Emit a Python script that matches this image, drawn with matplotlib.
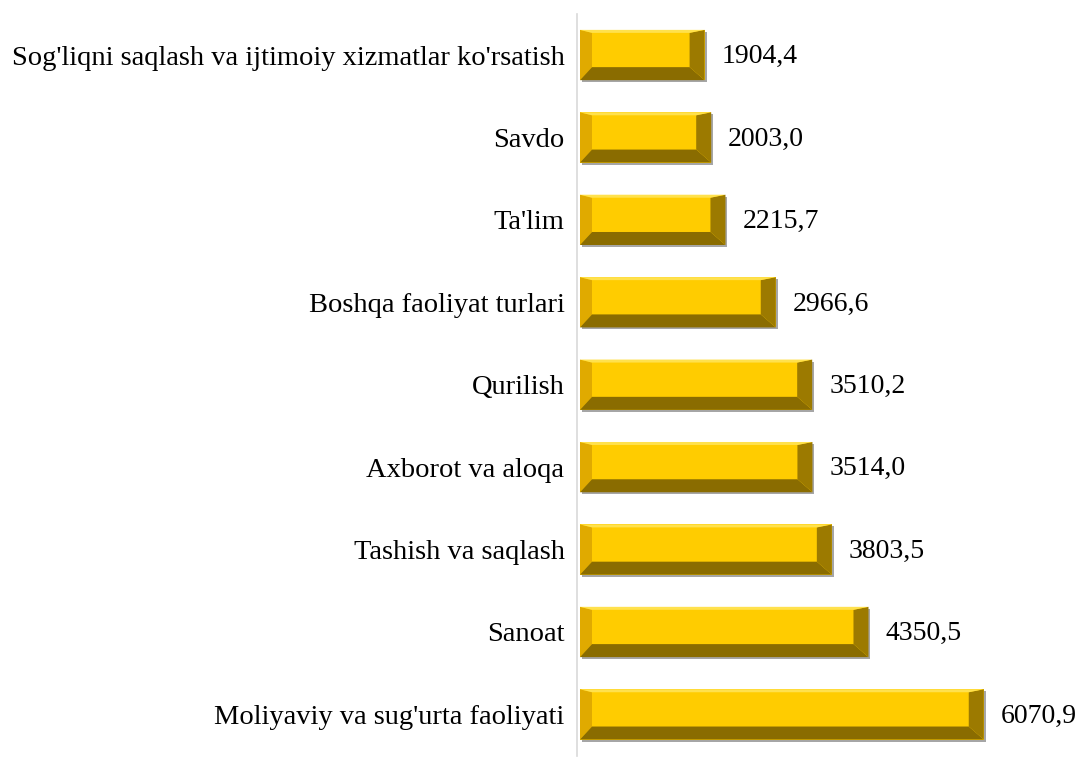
import matplotlib.pyplot as plt
from matplotlib.patches import Polygon

categories = ["Moliyaviy va sug'urta faoliyati", "Sanoat", "Tashish va saqlash",
              "Axborot va aloqa", "Qurilish", "Boshqa faoliyat turlari",
              "Ta'lim", "Savdo", "Sog'liqni saqlash va ijtimoiy xizmatlar ko'rsatish"]
values = [6070.9, 4350.5, 3803.5, 3514.0, 3510.2, 2966.6, 2215.7, 2003.0, 1904.4]
labels = ["6070,9", "4350,5", "3803,5", "3514,0", "3510,2", "2966,6", "2215,7", "2003,0", "1904,4"]

plt.rcParams['font.family'] = ['Liberation Serif', 'DejaVu Serif']

W, H, DPI = 1082, 760, 100
fig = plt.figure(figsize=(W / DPI, H / DPI), dpi=DPI)
ax_left, ax_right, ax_top, ax_bot = 577, 1046, 13.8, 755.6
ax = fig.add_axes([ax_left / W, 1 - ax_bot / H, (ax_right - ax_left) / W, (ax_bot - ax_top) / H])

xmax = 7000
ax.set_xlim(0, xmax)
ax.set_ylim(-0.5, len(values) - 0.5)

# pixel -> data conversion for bevel sizes
px_x = xmax / (ax_right - ax_left)
px_y = len(values) / (ax_bot - ax_top)

bh = 0.61
face = '#FFCC00'
x0 = 3 * px_x
bars = ax.barh(range(len(values)), [v - x0 for v in values], left=x0, height=bh, color=face, zorder=3)

for i, v in enumerate(values):
    y0, y1 = i - bh / 2, i + bh / 2
    lb, rb = 12 * px_x, 15 * px_x
    bb, tb = 13 * px_y, 3 * px_y
    # shadow
    ax.add_patch(Polygon([(x0 + 2 * px_x, y0 - 2 * px_y), (v + 2 * px_x, y0 - 2 * px_y),
                          (v + 2 * px_x, y1 - 2 * px_y), (v, y1 - 2 * px_y), (v, y0), (x0 + 2 * px_x, y0)],
                         closed=True, color='#A6A6A6', lw=0, zorder=2))
    ax.add_patch(Polygon([(x0, y0), (x0 + lb, y0 + bb), (x0 + lb, y1 - tb), (x0, y1)],
                         closed=True, color='#E0AA00', lw=0, zorder=4))
    ax.add_patch(Polygon([(x0, y0), (v, y0), (v - rb, y0 + bb), (x0 + lb, y0 + bb)],
                         closed=True, color='#8A6C00', lw=0, zorder=4))
    ax.add_patch(Polygon([(v, y0), (v, y1), (v - rb, y1 - tb), (v - rb, y0 + bb)],
                         closed=True, color='#9C7A00', lw=0, zorder=4))
    ax.add_patch(Polygon([(x0, y1), (v, y1), (v - rb, y1 - tb), (x0 + lb, y1 - tb)],
                         closed=True, color='#FFE14D', lw=0, zorder=4))
    ax.text(v + 17 * px_x, i - 0.02, labels[i], va='center', ha='left', fontsize=20)

ax.set_yticks(range(len(values)))
ax.set_yticklabels(categories, fontsize=20.5)
ax.tick_params(axis='y', length=0, pad=9)
ax.set_xticks([])
for s in ['top', 'right', 'bottom']:
    ax.spines[s].set_visible(False)
ax.spines['left'].set_color('#D9D9D9')
ax.spines['left'].set_linewidth(1.2)

fig.savefig('out.png', dpi=DPI)
